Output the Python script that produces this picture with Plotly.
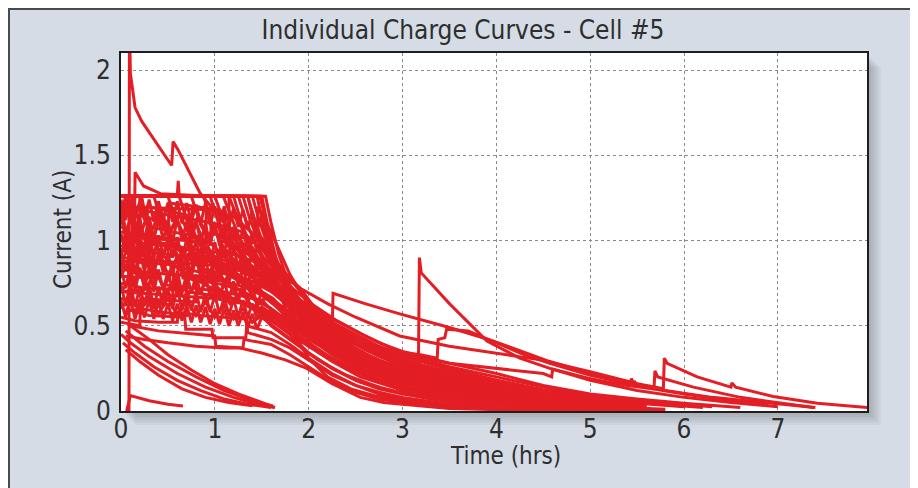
import plotly.graph_objects as go

# ---------------- data (time in hrs, current in A) ----------------
c01_t = [0.085, 0.09, 0.1, 0.15, 0.22, 0.38, 0.54, 0.555, 0.61, 0.84, 1.0, 1.2, 1.45, 1.7, 2.0, 2.3, 2.6, 3.0, 3.5, 4.0, 4.5, 5.0, 5.5]
c01_i = [0.0, 2.3, 1.98, 1.78, 1.7, 1.57, 1.44, 1.58, 1.53, 1.28, 1.17, 1.04, 0.9, 0.78, 0.64, 0.53, 0.44, 0.34, 0.25, 0.18, 0.12, 0.08, 0.05]

k01_t = [0, 1.54, 1.6, 1.68, 1.78, 1.9, 2.0, 2.25, 2.5, 2.75, 3.0, 3.5, 4.0, 4.5, 5.0, 5.7]
k01_i = [1.26, 1.26, 1.1, 0.92, 0.76, 0.62, 0.53, 0.38, 0.27, 0.18, 0.12, 0.07, 0.035, 0.018, 0.008, 0.004]
k02_t = [0.02, 1.5, 1.56, 1.65, 1.76, 1.88, 2.0, 2.25, 2.5, 2.75, 3.0, 3.5, 4.0, 4.6, 5.2]
k02_i = [1.26, 1.26, 1.1, 0.9, 0.74, 0.6, 0.5, 0.37, 0.28, 0.2, 0.15, 0.09, 0.055, 0.03, 0.012]
k03_t = [0, 1.45, 1.52, 1.6, 1.7, 1.82, 1.92, 2.0, 2.2, 2.45, 2.7, 3.0, 3.4, 3.9, 4.4, 5.0]
k03_i = [1.26, 1.26, 1.08, 0.88, 0.68, 0.5, 0.38, 0.31, 0.2, 0.13, 0.09, 0.06, 0.035, 0.015, 0.006, 0.003]
k04_t = [0.05, 1.4, 1.47, 1.56, 1.68, 1.82, 2.0, 2.25, 2.5, 2.75, 3.0, 3.5, 4.0, 4.5, 5.0, 5.6]
k04_i = [1.26, 1.26, 1.12, 0.98, 0.85, 0.72, 0.58, 0.46, 0.37, 0.29, 0.23, 0.16, 0.11, 0.075, 0.05, 0.025]
k05_t = [0, 1.3, 1.37, 1.46, 1.58, 1.72, 1.86, 2.0, 2.25, 2.5, 2.75, 3.0, 3.5, 4.0, 4.5, 5.0, 5.6, 6.2]
k05_i = [1.26, 1.26, 1.13, 1.0, 0.88, 0.77, 0.67, 0.58, 0.48, 0.41, 0.35, 0.3, 0.23, 0.17, 0.12, 0.08, 0.05, 0.025]
k06_t = [0.03, 1.2, 1.28, 1.38, 1.5, 1.64, 1.8, 2.0, 2.25, 2.5, 2.75, 3.0, 3.5, 4.0, 4.5, 5.0, 5.5]
k06_i = [1.26, 1.26, 1.11, 0.97, 0.86, 0.75, 0.63, 0.5, 0.4, 0.32, 0.25, 0.19, 0.125, 0.08, 0.055, 0.035, 0.018]
k07_t = [0, 1.09, 1.3, 1.5, 1.7, 1.85, 2.0, 2.25, 2.5, 2.75, 3.0, 3.5, 4.0, 4.5, 5.0, 5.5, 6.0, 6.6]
k07_i = [1.26, 1.26, 0.96, 0.82, 0.72, 0.67, 0.62, 0.54, 0.47, 0.4, 0.35, 0.28, 0.22, 0.15, 0.1, 0.07, 0.045, 0.02]
k08_t = [0.04, 1.0, 1.1, 1.22, 1.38, 1.55, 1.75, 2.0, 2.25, 2.5, 2.75, 3.0, 3.5, 4.0, 4.5, 5.0, 5.6]
k08_i = [1.26, 1.26, 1.1, 0.96, 0.84, 0.74, 0.63, 0.52, 0.43, 0.36, 0.3, 0.25, 0.18, 0.13, 0.09, 0.06, 0.03]
k09_t = [0, 0.88, 0.98, 1.1, 1.25, 1.45, 1.7, 2.0, 2.25, 2.5, 2.75, 3.0, 3.5, 4.0, 4.5, 5.0, 5.5, 6.0]
k09_i = [1.26, 1.26, 1.08, 0.95, 0.86, 0.77, 0.67, 0.55, 0.47, 0.4, 0.33, 0.28, 0.21, 0.15, 0.1, 0.07, 0.045, 0.025]
k10_t = [0.02, 0.75, 0.85, 0.98, 1.15, 1.35, 1.6, 1.8, 2.0, 2.25, 2.5, 2.75, 3.0, 3.5, 4.0, 4.5, 5.0, 5.5, 6.1]
k10_i = [1.26, 1.26, 1.09, 0.97, 0.88, 0.8, 0.71, 0.64, 0.58, 0.5, 0.43, 0.37, 0.32, 0.245, 0.18, 0.125, 0.085, 0.055, 0.03]
k11_t = [0, 0.62, 0.74, 0.9, 1.1, 1.3, 1.55, 1.8, 2.0, 2.25, 2.5, 2.75, 3.0, 3.5, 4.0, 4.5, 5.0, 5.5]
k11_i = [1.26, 1.26, 1.05, 0.93, 0.84, 0.76, 0.67, 0.55, 0.46, 0.38, 0.3, 0.24, 0.2, 0.13, 0.085, 0.06, 0.04, 0.02]
k12_t = [0.05, 0.5, 0.6, 0.75, 0.95, 1.2, 1.45, 1.7, 2.0, 2.25, 2.5, 2.75, 3.0, 3.5, 4.0, 4.5, 5.0, 5.6]
k12_i = [1.26, 1.26, 1.1, 0.97, 0.87, 0.78, 0.7, 0.6, 0.48, 0.4, 0.33, 0.27, 0.22, 0.15, 0.1, 0.07, 0.045, 0.02]
k13_t = [0, 0.35, 0.45, 0.6, 0.8, 1.05, 1.3, 1.55, 1.8, 2.0, 2.25, 2.5, 2.75, 3.0, 3.5, 4.0, 4.5, 5.0, 5.8]
k13_i = [1.26, 1.26, 1.08, 0.95, 0.86, 0.78, 0.7, 0.62, 0.51, 0.42, 0.34, 0.27, 0.21, 0.17, 0.1, 0.06, 0.035, 0.015, 0.005]
k14_t = [0.02, 0.22, 0.3, 0.45, 0.65, 0.9, 1.15, 1.4, 1.65, 1.85, 2.0, 2.25, 2.5, 2.75, 3.0, 3.5, 4.0, 4.6, 5.4]
k14_i = [1.26, 1.26, 1.03, 0.91, 0.82, 0.74, 0.67, 0.6, 0.51, 0.43, 0.38, 0.3, 0.23, 0.17, 0.13, 0.075, 0.04, 0.015, 0.006]
k15_t = [0, 1.15, 1.25, 1.37, 1.5, 1.65, 1.82, 2.0, 2.3, 2.6, 3.0, 3.5, 4.1, 4.8, 5.5]
k15_i = [1.26, 1.26, 1.12, 0.97, 0.84, 0.72, 0.61, 0.52, 0.4, 0.31, 0.22, 0.14, 0.08, 0.035, 0.012]
k16_t = [0, 1.25, 1.33, 1.43, 1.55, 1.68, 1.84, 2.0, 2.3, 2.6, 3.0, 3.5, 4.0, 4.7, 5.4]
k16_i = [1.26, 1.26, 1.12, 0.98, 0.84, 0.71, 0.6, 0.5, 0.37, 0.28, 0.19, 0.12, 0.07, 0.03, 0.01]
k17_t = [0, 1.35, 1.42, 1.51, 1.62, 1.75, 1.9, 2.05, 2.3, 2.6, 3.0, 3.5, 4.2, 5.0, 5.8]
k17_i = [1.26, 1.26, 1.13, 0.99, 0.85, 0.72, 0.6, 0.5, 0.39, 0.3, 0.21, 0.13, 0.07, 0.03, 0.01]
k18_t = [0, 1.48, 1.55, 1.63, 1.73, 1.85, 2.0, 2.2, 2.5, 2.8, 3.2, 3.7, 4.3, 5.0]
k18_i = [1.26, 1.26, 1.1, 0.93, 0.77, 0.63, 0.5, 0.39, 0.28, 0.2, 0.13, 0.08, 0.04, 0.018]

j01_t = [0, 0.08, 0.6, 0.61, 0.62, 1.35, 1.42, 1.52, 1.65, 1.8, 2.0, 2.25, 2.5, 2.75, 3.0, 3.5, 4.0, 4.5, 5.0, 5.6, 6.3]
j01_i = [1.1, 1.26, 1.26, 1.35, 1.26, 1.26, 1.1, 0.95, 0.82, 0.7, 0.6, 0.52, 0.45, 0.38, 0.33, 0.26, 0.2, 0.14, 0.09, 0.055, 0.025]
j02_t = [0, 0.14, 0.15, 0.24, 0.42, 0.95, 1.04, 1.16, 1.32, 1.5, 1.72, 2.0, 2.25, 2.5, 2.75, 3.0, 3.5, 4.0, 4.5, 5.0, 5.6]
j02_i = [0.95, 0.9, 1.4, 1.32, 1.275, 1.26, 1.1, 0.97, 0.86, 0.77, 0.67, 0.55, 0.46, 0.39, 0.32, 0.27, 0.195, 0.14, 0.095, 0.065, 0.035]
j03_t = [0, 0.12, 0.121, 0.2, 0.201, 0.28, 0.281, 0.7, 0.8, 0.95, 1.15, 1.4, 1.7, 2.0, 2.25, 2.5, 2.75, 3.0, 3.5, 4.0, 4.5, 5.0, 5.5]
j03_i = [1.0, 0.98, 1.26, 1.26, 0.92, 0.9, 1.2, 1.15, 1.02, 0.93, 0.84, 0.74, 0.62, 0.5, 0.42, 0.35, 0.29, 0.24, 0.17, 0.12, 0.08, 0.05, 0.025]
j04_t = [0, 0.1, 0.18, 0.181, 0.5, 0.55, 0.7, 0.9, 1.1, 1.3, 1.55, 1.8, 2.0, 2.25, 2.5, 2.75, 3.0, 3.5, 4.0, 4.5, 5.0]
j04_i = [0.85, 0.82, 0.8, 1.15, 1.1, 0.98, 0.95, 0.9, 0.85, 0.78, 0.68, 0.56, 0.47, 0.38, 0.31, 0.25, 0.21, 0.14, 0.09, 0.055, 0.03]
j05_t = [0, 0.25, 0.26, 0.5, 0.65, 0.66, 0.9, 1.1, 1.3, 1.5, 1.75, 2.0, 2.25, 2.5, 2.75, 3.0, 3.5, 4.0, 4.6, 5.2]
j05_i = [0.75, 0.72, 1.0, 0.98, 0.95, 0.78, 0.76, 0.74, 0.7, 0.64, 0.54, 0.44, 0.35, 0.28, 0.22, 0.18, 0.11, 0.07, 0.04, 0.02]
j06_t = [0, 0.3, 0.55, 0.56, 0.8, 1.0, 1.01, 1.2, 1.4, 1.65, 1.85, 2.0, 2.25, 2.5, 2.75, 3.0, 3.5, 4.0, 4.5]
j06_i = [0.66, 0.64, 0.62, 0.85, 0.82, 0.8, 0.68, 0.66, 0.62, 0.54, 0.46, 0.4, 0.31, 0.24, 0.18, 0.14, 0.085, 0.05, 0.025]
j07_t = [0, 0.4, 0.75, 0.76, 1.05, 1.06, 1.3, 1.5, 1.75, 2.0, 2.25, 2.5, 2.75, 3.0, 3.5, 4.0, 4.5, 5.0, 5.6, 6.2]
j07_i = [1.05, 1.02, 1.0, 1.2, 1.18, 0.95, 0.9, 0.8, 0.67, 0.56, 0.47, 0.4, 0.34, 0.29, 0.22, 0.16, 0.11, 0.075, 0.045, 0.02]
j08_t = [0.02, 0.2, 0.45, 0.7, 0.71, 0.95, 1.2, 1.45, 1.7, 2.0, 2.25, 2.5, 2.75, 3.0, 3.5, 4.0, 4.5, 5.3]
j08_i = [0.58, 0.6, 0.58, 0.56, 0.7, 0.68, 0.66, 0.6, 0.5, 0.34, 0.25, 0.18, 0.13, 0.1, 0.055, 0.03, 0.012, 0.004]

m01_t = [0, 0.2, 0.45, 0.46, 0.8, 1.1, 1.4, 1.6, 1.8, 2.0, 2.3, 2.6, 3.0, 3.5, 4.0, 4.6]
m01_i = [0.62, 0.63, 0.64, 0.74, 0.72, 0.7, 0.66, 0.6, 0.52, 0.44, 0.34, 0.26, 0.18, 0.11, 0.065, 0.03]
m02_t = [0, 0.15, 0.35, 0.6, 0.61, 0.9, 1.2, 1.45, 1.65, 1.85, 2.0, 2.3, 2.6, 3.0, 3.5, 4.0, 4.6]
m02_i = [0.7, 0.71, 0.72, 0.71, 0.9, 0.88, 0.85, 0.8, 0.72, 0.62, 0.54, 0.42, 0.33, 0.24, 0.155, 0.095, 0.05]
m03_t = [0, 0.3, 0.31, 0.55, 0.85, 0.86, 1.15, 1.4, 1.6, 1.8, 2.0, 2.3, 2.6, 3.0, 3.5, 4.1, 4.8]
m03_i = [0.79, 0.78, 1.08, 1.05, 1.02, 0.83, 0.8, 0.76, 0.7, 0.61, 0.52, 0.41, 0.32, 0.23, 0.15, 0.085, 0.04]
m04_t = [0, 0.22, 0.5, 0.51, 0.8, 1.1, 1.12, 1.35, 1.55, 1.75, 2.0, 2.3, 2.6, 3.0, 3.5, 4.0, 4.6, 5.2]
m04_i = [0.88, 0.87, 0.86, 1.22, 1.2, 1.17, 0.98, 0.92, 0.84, 0.74, 0.6, 0.47, 0.37, 0.27, 0.18, 0.12, 0.07, 0.035]
m05_t = [0, 0.1, 0.35, 0.36, 0.7, 0.71, 1.0, 1.25, 1.5, 1.7, 2.0, 2.3, 2.6, 3.0, 3.5, 4.0, 4.6]
m05_i = [0.97, 0.96, 0.94, 0.72, 0.71, 0.92, 0.9, 0.86, 0.78, 0.68, 0.53, 0.41, 0.31, 0.21, 0.13, 0.075, 0.035]
m06_t = [0, 0.4, 0.7, 0.9, 0.91, 1.2, 1.45, 1.65, 1.85, 2.0, 2.3, 2.6, 3.0, 3.5, 4.0, 4.5, 5.0]
m06_i = [1.02, 1.01, 1.0, 0.98, 1.18, 1.14, 1.02, 0.88, 0.74, 0.64, 0.5, 0.4, 0.3, 0.2, 0.13, 0.08, 0.045]
m07_t = [0, 0.05, 0.45, 0.8, 1.15, 1.16, 1.4, 1.6, 1.8, 2.0, 2.3, 2.6, 3.0, 3.5, 4.0, 4.8, 5.6]
m07_i = [1.15, 1.26, 1.26, 1.26, 1.26, 0.88, 0.84, 0.76, 0.66, 0.56, 0.43, 0.33, 0.23, 0.14, 0.08, 0.03, 0.01]
m08_t = [0, 0.2, 0.21, 0.5, 0.8, 0.81, 1.1, 1.3, 1.5, 1.7, 1.9, 2.1, 2.4, 2.8, 3.3, 3.9, 4.5]
m08_i = [0.52, 0.5, 0.66, 0.65, 0.64, 0.78, 0.76, 0.73, 0.68, 0.6, 0.5, 0.4, 0.3, 0.2, 0.12, 0.06, 0.025]
m09_t = [0, 0.08, 0.09, 0.3, 0.55, 0.85, 1.05, 1.06, 1.3, 1.5, 1.7, 1.9, 2.1, 2.4, 2.8, 3.3, 3.9, 4.6, 5.4]
m09_i = [1.08, 1.06, 0.82, 0.81, 0.8, 0.79, 0.78, 1.0, 0.96, 0.86, 0.72, 0.6, 0.5, 0.38, 0.27, 0.17, 0.09, 0.04, 0.015]
m10_t = [0, 0.6, 0.95, 0.96, 1.25, 1.45, 1.46, 1.6, 1.8, 2.0, 2.3, 2.6, 3.0, 3.5, 4.1, 4.8]
m10_i = [1.2, 1.19, 1.18, 1.04, 1.02, 1.0, 1.2, 1.05, 0.8, 0.62, 0.46, 0.36, 0.26, 0.17, 0.1, 0.05]

n01_t = [0, 0.06, 0.12, 0.18, 0.26, 0.34, 0.42, 0.5, 0.6, 0.7, 0.8, 0.9, 1.0, 1.1, 1.2, 1.3, 1.4, 1.5, 1.6, 1.75, 1.9, 2.1, 2.4, 2.8, 3.3, 3.9, 4.6]
n01_i = [1.18, 1.05, 1.16, 0.98, 1.12, 1.0, 1.15, 1.03, 1.12, 0.99, 1.1, 0.97, 1.06, 0.95, 1.02, 0.92, 0.96, 0.86, 0.78, 0.66, 0.56, 0.45, 0.34, 0.23, 0.14, 0.08, 0.035]
n02_t = [0, 0.07, 0.15, 0.22, 0.3, 0.38, 0.47, 0.56, 0.65, 0.75, 0.85, 0.95, 1.05, 1.15, 1.25, 1.35, 1.45, 1.55, 1.7, 1.85, 2.0, 2.3, 2.7, 3.2, 3.8, 4.5]
n02_i = [0.92, 1.02, 0.88, 0.98, 0.86, 0.97, 0.85, 0.95, 0.84, 0.93, 0.83, 0.9, 0.8, 0.88, 0.78, 0.84, 0.74, 0.76, 0.66, 0.57, 0.49, 0.37, 0.26, 0.16, 0.09, 0.04]
n03_t = [0, 0.05, 0.13, 0.2, 0.28, 0.37, 0.45, 0.55, 0.64, 0.74, 0.84, 0.94, 1.04, 1.14, 1.24, 1.34, 1.44, 1.55, 1.68, 1.85, 2.05, 2.35, 2.75, 3.25, 3.9, 4.6]
n03_i = [0.78, 0.86, 0.74, 0.84, 0.73, 0.83, 0.72, 0.82, 0.71, 0.8, 0.7, 0.78, 0.69, 0.76, 0.67, 0.73, 0.64, 0.66, 0.6, 0.52, 0.43, 0.33, 0.23, 0.14, 0.075, 0.03]
n04_t = [0, 0.08, 0.16, 0.24, 0.33, 0.42, 0.52, 0.62, 0.72, 0.82, 0.92, 1.02, 1.12, 1.22, 1.32, 1.42, 1.52, 1.62, 1.78, 1.95, 2.15, 2.45, 2.85, 3.35, 4.0, 4.7]
n04_i = [1.12, 1.22, 1.08, 1.2, 1.06, 1.18, 1.05, 1.16, 1.04, 1.14, 1.02, 1.1, 0.98, 1.06, 0.94, 1.0, 0.9, 0.84, 0.72, 0.6, 0.49, 0.38, 0.27, 0.17, 0.09, 0.04]
n05_t = [0, 0.1, 0.2, 0.3, 0.4, 0.5, 0.6, 0.7, 0.8, 0.9, 1.0, 1.1, 1.2, 1.3, 1.4, 1.5, 1.6, 1.75, 1.9, 2.1, 2.4, 2.8, 3.3, 3.9]
n05_i = [0.6, 0.68, 0.58, 0.67, 0.57, 0.66, 0.56, 0.65, 0.56, 0.64, 0.55, 0.62, 0.54, 0.6, 0.52, 0.56, 0.5, 0.44, 0.38, 0.3, 0.21, 0.13, 0.07, 0.03]
n06_t = [0.02, 0.09, 0.17, 0.25, 0.34, 0.43, 0.53, 0.63, 0.73, 0.83, 0.93, 1.03, 1.13, 1.23, 1.33, 1.43, 1.53, 1.65, 1.8, 1.98, 2.2, 2.5, 2.9, 3.4, 4.0, 4.8]
n06_i = [1.02, 0.93, 1.03, 0.92, 1.02, 0.9, 1.0, 0.88, 0.98, 0.87, 0.96, 0.86, 0.94, 0.84, 0.9, 0.8, 0.82, 0.72, 0.62, 0.52, 0.42, 0.32, 0.22, 0.14, 0.08, 0.035]
n07_t = [0, 0.1, 0.2, 0.32, 0.44, 0.56, 0.68, 0.8, 0.92, 1.04, 1.16, 1.28, 1.4, 1.52, 1.64, 1.78, 1.95, 2.15, 2.45, 2.85, 3.35, 4.0, 4.8]
n07_i = [0.7, 0.77, 0.68, 0.76, 0.67, 0.75, 0.66, 0.74, 0.65, 0.72, 0.63, 0.7, 0.61, 0.64, 0.57, 0.5, 0.42, 0.34, 0.25, 0.17, 0.1, 0.05, 0.015]
n08_t = [0, 0.06, 0.14, 0.23, 0.32, 0.41, 0.5, 0.6, 0.7, 0.8, 0.9, 1.0, 1.1, 1.2, 1.3, 1.4, 1.5, 1.62, 1.76, 1.92, 2.1, 2.4, 2.8, 3.3, 3.9, 4.6]
n08_i = [0.85, 0.95, 0.82, 0.93, 0.81, 0.92, 0.8, 0.9, 0.79, 0.89, 0.78, 0.87, 0.76, 0.84, 0.74, 0.8, 0.7, 0.66, 0.58, 0.5, 0.42, 0.32, 0.22, 0.13, 0.07, 0.03]

# densely sampled noisy charges that fill the 0.5-1.26 A block
z_t = [0, 0.05, 0.1, 0.15, 0.2, 0.25, 0.3, 0.35, 0.4, 0.45, 0.5, 0.55, 0.6, 0.65, 0.7, 0.75, 0.8, 0.85, 0.9, 0.95, 1.0, 1.05, 1.1, 1.15, 1.2, 1.25, 1.3, 1.35, 1.4, 1.45, 1.5]
z01_i = [1.24, 1.12, 1.24, 1.13, 1.23, 1.12, 1.24, 1.11, 1.23, 1.12, 1.22, 1.11, 1.23, 1.1, 1.22, 1.11, 1.21, 1.1, 1.22, 1.09, 1.2, 1.1, 1.2, 1.08, 1.19, 1.08, 1.18, 1.07, 1.17, 1.06, 1.15]
z02_i = [1.14, 1.01, 1.15, 1.02, 1.13, 1.0, 1.14, 1.01, 1.13, 1.0, 1.12, 0.99, 1.13, 1.0, 1.11, 0.98, 1.12, 0.99, 1.1, 0.97, 1.1, 0.97, 1.09, 0.96, 1.08, 0.95, 1.07, 0.94, 1.05, 0.93, 1.02]
z03_i = [1.04, 0.92, 1.05, 0.91, 1.03, 0.92, 1.04, 0.9, 1.03, 0.91, 1.02, 0.9, 1.02, 0.89, 1.01, 0.89, 1.0, 0.88, 0.99, 0.87, 0.99, 0.86, 0.97, 0.85, 0.96, 0.84, 0.95, 0.83, 0.93, 0.82, 0.9]
z04_i = [0.94, 0.82, 0.95, 0.81, 0.93, 0.82, 0.94, 0.8, 0.93, 0.81, 0.92, 0.8, 0.92, 0.79, 0.91, 0.79, 0.9, 0.78, 0.89, 0.77, 0.88, 0.76, 0.87, 0.75, 0.86, 0.74, 0.85, 0.73, 0.83, 0.72, 0.8]
z05_i = [0.84, 0.72, 0.85, 0.71, 0.83, 0.72, 0.84, 0.7, 0.83, 0.71, 0.82, 0.7, 0.82, 0.69, 0.81, 0.69, 0.8, 0.68, 0.79, 0.67, 0.78, 0.66, 0.77, 0.65, 0.76, 0.64, 0.75, 0.63, 0.73, 0.62, 0.7]
z06_i = [0.74, 0.62, 0.75, 0.61, 0.73, 0.62, 0.74, 0.6, 0.73, 0.61, 0.72, 0.6, 0.72, 0.59, 0.71, 0.59, 0.7, 0.58, 0.69, 0.58, 0.68, 0.57, 0.67, 0.56, 0.66, 0.55, 0.65, 0.55, 0.63, 0.54, 0.61]
z07_i = [0.65, 0.55, 0.66, 0.54, 0.64, 0.55, 0.65, 0.54, 0.64, 0.54, 0.63, 0.53, 0.63, 0.53, 0.62, 0.52, 0.62, 0.52, 0.61, 0.51, 0.6, 0.51, 0.6, 0.5, 0.59, 0.5, 0.58, 0.49, 0.57, 0.48, 0.55]
z01_tail_t = [1.5, 1.6, 1.75, 1.9, 2.1, 2.4, 2.8, 3.3, 3.9, 4.6]
z01_tail_i = [1.15, 0.95, 0.78, 0.63, 0.5, 0.37, 0.25, 0.15, 0.08, 0.035]
z02_tail_t = [1.5, 1.6, 1.75, 1.9, 2.1, 2.4, 2.8, 3.3, 4.0, 4.8]
z02_tail_i = [1.02, 0.9, 0.74, 0.6, 0.47, 0.35, 0.24, 0.15, 0.075, 0.03]
z03_tail_t = [1.5, 1.62, 1.78, 1.95, 2.15, 2.45, 2.85, 3.35, 4.0, 4.8]
z03_tail_i = [0.9, 0.8, 0.67, 0.55, 0.44, 0.33, 0.22, 0.13, 0.07, 0.025]
z04_tail_t = [1.5, 1.62, 1.8, 2.0, 2.2, 2.5, 2.9, 3.4, 4.1, 4.9]
z04_tail_i = [0.8, 0.72, 0.6, 0.49, 0.39, 0.29, 0.2, 0.12, 0.06, 0.02]
z05_tail_t = [1.5, 1.62, 1.8, 2.0, 2.25, 2.55, 2.95, 3.45, 4.1, 4.9]
z05_tail_i = [0.7, 0.63, 0.53, 0.43, 0.33, 0.24, 0.16, 0.1, 0.05, 0.015]
z06_tail_t = [1.5, 1.62, 1.8, 2.0, 2.25, 2.55, 2.95, 3.45, 4.1, 4.9]
z06_tail_i = [0.61, 0.56, 0.47, 0.38, 0.29, 0.2, 0.13, 0.08, 0.04, 0.012]
z07_tail_t = [1.5, 1.62, 1.8, 2.0, 2.25, 2.55, 2.95, 3.45, 4.1, 4.9]
z07_tail_i = [0.55, 0.5, 0.42, 0.34, 0.25, 0.17, 0.11, 0.065, 0.03, 0.01]

l01_t = [0.05, 0.3, 0.68, 0.69, 0.97, 0.98, 1.33, 1.34, 1.6, 1.8, 2.0, 2.25, 2.5, 2.75, 3.0, 3.5, 4.0, 4.8]
l01_i = [0.6, 0.56, 0.55, 0.48, 0.48, 0.43, 0.43, 0.5, 0.46, 0.39, 0.31, 0.22, 0.15, 0.1, 0.07, 0.035, 0.015, 0.005]
l02_t = [0.1, 0.4, 0.8, 1.0, 1.01, 1.3, 1.31, 1.6, 1.8, 2.0, 2.25, 2.5, 2.75, 3.0, 3.5, 4.0, 4.8]
l02_i = [0.5, 0.47, 0.45, 0.44, 0.38, 0.37, 0.42, 0.39, 0.33, 0.26, 0.17, 0.11, 0.07, 0.05, 0.025, 0.01, 0.004]
l03_t = [0.05, 0.25, 0.5, 0.8, 1.1, 1.27, 1.5, 1.75, 1.98, 2.25, 2.55, 2.8, 3.0, 3.5, 4.3]
l03_i = [0.44, 0.42, 0.4, 0.38, 0.37, 0.37, 0.34, 0.3, 0.25, 0.16, 0.08, 0.05, 0.04, 0.015, 0.004]
l04_t = [0, 0.15, 0.4, 0.6, 0.61, 0.85, 1.1, 1.34, 1.35, 1.6, 1.8, 2.0, 2.25, 2.5, 2.75, 3.0, 3.5, 4.0]
l04_i = [0.55, 0.53, 0.52, 0.52, 0.58, 0.56, 0.55, 0.54, 0.46, 0.42, 0.37, 0.3, 0.21, 0.15, 0.11, 0.08, 0.04, 0.02]

s01_t = [0, 0.5, 1.0, 1.3, 1.5, 1.7, 1.91, 2.1, 2.25, 2.26, 2.6, 2.97, 3.5, 3.97, 4.57, 5.0, 5.46, 6.0, 6.5, 6.9]
s01_i = [1.2, 1.15, 1.1, 1.05, 0.95, 0.83, 0.72, 0.58, 0.47, 0.69, 0.63, 0.57, 0.49, 0.41, 0.29, 0.22, 0.15, 0.1, 0.06, 0.035]
s02_t = [0, 0.6, 1.2, 1.5, 1.7, 1.91, 2.2, 2.5, 2.97, 3.5, 4.0, 4.47, 5.0, 5.43, 5.44, 5.46, 5.6, 5.78, 5.79, 5.82, 6.14, 6.5, 6.51, 6.55, 6.95, 7.42, 7.95]
s02_i = [1.0, 0.96, 0.92, 0.86, 0.8, 0.72, 0.63, 0.55, 0.44, 0.38, 0.34, 0.3, 0.23, 0.17, 0.19, 0.165, 0.15, 0.13, 0.31, 0.28, 0.2, 0.14, 0.165, 0.14, 0.085, 0.045, 0.02]
s03_t = [0, 0.4, 0.9, 1.3, 1.6, 1.8, 2.0, 2.3, 2.6, 2.97, 3.17, 3.18, 3.2, 3.5, 3.9, 4.25, 4.57, 5.0, 5.5, 6.0, 6.5, 7.0]
s03_i = [0.9, 0.88, 0.86, 0.82, 0.76, 0.7, 0.6, 0.48, 0.38, 0.31, 0.28, 0.9, 0.81, 0.63, 0.41, 0.31, 0.25, 0.18, 0.12, 0.08, 0.05, 0.025]
s04_t = [0, 0.5, 1.0, 1.4, 1.7, 2.0, 2.4, 2.8, 3.19, 3.37, 3.38, 3.45, 3.47, 3.7, 4.0, 4.3, 4.57, 5.0, 5.46, 5.47, 5.5, 5.8, 6.3, 6.9, 7.4]
s04_i = [0.7, 0.68, 0.66, 0.62, 0.56, 0.48, 0.41, 0.36, 0.33, 0.31, 0.42, 0.43, 0.48, 0.47, 0.4, 0.33, 0.28, 0.21, 0.155, 0.175, 0.155, 0.12, 0.08, 0.045, 0.02]
s05_t = [0, 0.3, 0.8, 1.2, 1.5, 1.8, 2.1, 2.5, 3.0, 3.5, 4.0, 4.5, 4.59, 4.6, 5.0, 5.4, 5.68, 5.69, 5.72, 6.1, 6.6, 7.0, 7.38]
s05_i = [0.95, 0.93, 0.9, 0.85, 0.75, 0.62, 0.5, 0.4, 0.33, 0.28, 0.25, 0.22, 0.2, 0.245, 0.19, 0.15, 0.13, 0.235, 0.2, 0.14, 0.08, 0.05, 0.02]

f01_t = [0.0, 0.1, 0.3, 0.6, 0.9, 1.2, 1.45, 1.64]
f01_i = [0.45, 0.4, 0.32, 0.22, 0.14, 0.08, 0.04, 0.02]
f02_t = [0.02, 0.15, 0.35, 0.6, 0.85, 1.1, 1.35, 1.6]
f02_i = [0.4, 0.34, 0.26, 0.18, 0.12, 0.07, 0.04, 0.02]
f03_t = [0.05, 0.2, 0.4, 0.65, 0.9, 1.15, 1.4]
f03_i = [0.36, 0.29, 0.21, 0.13, 0.08, 0.05, 0.03]
f04_t = [0.1, 0.3, 0.5, 0.75, 1.0, 1.25, 1.5, 1.64]
f04_i = [0.5, 0.42, 0.33, 0.24, 0.16, 0.1, 0.05, 0.02]
f05_t = [0.05, 0.25, 0.5, 0.8, 1.1, 1.4, 1.62]
f05_i = [0.47, 0.38, 0.29, 0.2, 0.12, 0.06, 0.03]
b01_t = [0.06, 0.1, 0.3, 0.5, 0.66]
b01_i = [0.0, 0.09, 0.06, 0.04, 0.03]

curves = [
    (c01_t, c01_i),
    (k01_t, k01_i), (k02_t, k02_i), (k03_t, k03_i), (k04_t, k04_i), (k05_t, k05_i),
    (k06_t, k06_i), (k07_t, k07_i), (k08_t, k08_i), (k09_t, k09_i), (k10_t, k10_i),
    (k11_t, k11_i), (k12_t, k12_i), (k13_t, k13_i), (k14_t, k14_i), (k15_t, k15_i),
    (k16_t, k16_i), (k17_t, k17_i), (k18_t, k18_i),
    (j01_t, j01_i), (j02_t, j02_i), (j03_t, j03_i), (j04_t, j04_i),
    (j05_t, j05_i), (j06_t, j06_i), (j07_t, j07_i), (j08_t, j08_i),
    (m01_t, m01_i), (m02_t, m02_i), (m03_t, m03_i), (m04_t, m04_i), (m05_t, m05_i),
    (m06_t, m06_i), (m07_t, m07_i), (m08_t, m08_i), (m09_t, m09_i), (m10_t, m10_i),
    (n01_t, n01_i), (n02_t, n02_i), (n03_t, n03_i), (n04_t, n04_i),
    (n05_t, n05_i), (n06_t, n06_i), (n07_t, n07_i), (n08_t, n08_i),
    (z_t + z01_tail_t[1:], z01_i + z01_tail_i[1:]),
    (z_t + z02_tail_t[1:], z02_i + z02_tail_i[1:]),
    (z_t + z03_tail_t[1:], z03_i + z03_tail_i[1:]),
    (z_t + z04_tail_t[1:], z04_i + z04_tail_i[1:]),
    (z_t + z05_tail_t[1:], z05_i + z05_tail_i[1:]),
    (z_t + z06_tail_t[1:], z06_i + z06_tail_i[1:]),
    (z_t + z07_tail_t[1:], z07_i + z07_tail_i[1:]),
    (l01_t, l01_i), (l02_t, l02_i), (l03_t, l03_i), (l04_t, l04_i),
    (s01_t, s01_i), (s02_t, s02_i), (s03_t, s03_i), (s04_t, s04_i), (s05_t, s05_i),
    (f01_t, f01_i), (f02_t, f02_i), (f03_t, f03_i), (f04_t, f04_i), (f05_t, f05_i),
    (b01_t, b01_i),
]

x_ticks = [0, 1, 2, 3, 4, 5, 6, 7]
y_ticks = [0, 0.5, 1, 1.5, 2]
y_tick_text = ["0", "0.5", "1", "1.5", "2"]

# ---------------- figure ----------------
# The page body has an 8px default margin, so the figure is laid out 8px
# smaller and all pixel positions below are relative to the figure itself.
RED = "#e31e24"
FONT = "Liberation Sans Narrow, Arial Narrow, DejaVu Sans Condensed, sans-serif"
W, H = 910, 480
L, R, T, B = 113, 51, 45, 77
PW, PH = W - L - R, H - T - B

fig = go.Figure()
for t, i in curves:
    fig.add_trace(go.Scatter(x=t, y=i, mode="lines",
                             line=dict(color=RED, width=3),
                             hoverinfo="skip", showlegend=False))

def px_x(p):
    return (p - L) / PW

def px_y(p):
    return (H - B - p) / PH

shapes = [
    dict(type="rect", xref="paper", yref="paper", layer="below",
         x0=px_x(1), x1=px_x(940), y0=px_y(520), y1=px_y(1),
         fillcolor="#d5dce5", line=dict(color="#4a4a4a", width=2)),
]
for d in [2, 4, 6, 8, 10, 12, 14]:
    shapes.append(dict(type="rect", xref="paper", yref="paper", layer="below",
                       x0=d / PW, x1=1 + d / PW, y0=-d / PH, y1=1 - d / PH,
                       fillcolor="rgba(40,45,55,0.045)", line=dict(width=0)))
shapes.append(dict(type="rect", xref="paper", yref="paper", layer="below",
                   x0=0, x1=1, y0=0, y1=1, fillcolor="white", line=dict(width=0)))

axis_common = dict(
    showgrid=True, gridcolor="#8a8a8a", griddash="dot", gridwidth=1,
    zeroline=False, showline=True, linecolor="#1e1e1e", linewidth=2, mirror=True,
    tickfont=dict(family=FONT, size=26, color="#2e2e2e"),
)

fig.update_layout(
    width=W, height=H,
    margin=dict(l=L, r=R, t=T, b=B),
    paper_bgcolor="#ffffff", plot_bgcolor="rgba(0,0,0,0)",
    shapes=shapes,
    title=dict(text="Individual Charge Curves - Cell #5", x=0.5, xref="container",
               xanchor="center", y=1 - 22 / H, yref="container", yanchor="middle",
               font=dict(family=FONT, size=26, color="#2e2e2e")),
    xaxis=dict(range=[0, 7.95], tickvals=x_ticks, ticks="", ticklabelstandoff=-6,
               **axis_common),
    yaxis=dict(range=[0, 2.1], tickvals=y_ticks, ticktext=y_tick_text,
               ticks="outside", ticklen=3, tickcolor="rgba(0,0,0,0)", **axis_common),
    annotations=[
        dict(text="Time (hrs)", xref="paper", yref="paper", x=px_x(497), y=px_y(448),
             xanchor="center", yanchor="middle", showarrow=False,
             font=dict(family=FONT, size=24, color="#2e2e2e")),
        dict(text="Current (A)", xref="paper", yref="paper", x=px_x(55), y=px_y(222),
             xanchor="center", yanchor="middle", showarrow=False, textangle=-90,
             font=dict(family=FONT, size=24, color="#2e2e2e")),
    ],
)

fig.write_html("out.html")
